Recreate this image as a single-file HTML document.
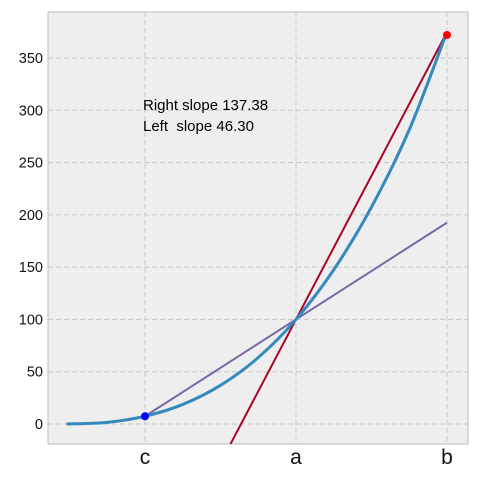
<!DOCTYPE html>
<html><head><meta charset="utf-8"><style>
html,body{margin:0;padding:0;background:#fff;width:480px;height:480px;overflow:hidden}
svg{display:block;font-family:"Liberation Sans","DejaVu Sans",sans-serif}
</style></head><body>
<svg width="480" height="480" viewBox="0 0 480 480">
<rect x="48" y="12" width="420" height="432" fill="#eeeeee" stroke="#bcbcbc"/>
<g id="grid"></g><g id="marks"></g><g id="ticks"></g>
<text x="143" y="110" font-size="15" fill="#000">Right slope 137.38</text>
<text x="143" y="131" font-size="15" fill="#000" xml:space="preserve">Left  slope 46.30</text>
</svg>
<script>
const curveX=[-1,-0.5,0,0.5,1,1.5,2,2.5,3,3.5,4];
const curveY=[0,1.6,7.4,18.7,37.0,63.6,100,147.5,207.5,281.4,375];
const xTickVals=[0,2,4];
const xTickLabels=["c","a","b"];
const yTicks=[0,50,100,150,200,250,300,350];
const pointA=[2,100];
const pointC=[0,7.4];
const pointB=[4,372];
const leftSlope=46.30;
const rightSlope=137.38;

const X=v=>145+v*75.5, Y=v=>424-v*1.0457;
const ns="http://www.w3.org/2000/svg";
function mk(tag,attrs,parent){const e=document.createElementNS(ns,tag);for(const k in attrs)e.setAttribute(k,attrs[k]);document.getElementById(parent).appendChild(e);return e;}
yTicks.forEach(v=>{
  const l=mk('line',{x1:48,x2:468,y1:Y(v),y2:Y(v),stroke:'#c8c8c8','stroke-dasharray':'5,3'},'grid');
  
  
  const t=mk('text',{x:43,y:Y(v)+5,'text-anchor':'end','font-size':'14.5',fill:'#111'},'ticks');
  t.textContent=v;
  
  
});
xTickVals.forEach((v,i)=>{
  const l=mk('line',{x1:X(v),x2:X(v),y1:12,y2:444,stroke:'#c8c8c8','stroke-dasharray':'5,3'},'grid');
  
  
  const t=mk('text',{x:X(v),y:464,'text-anchor':'middle','font-size':'21',fill:'#111'},'ticks');
  t.textContent=xTickLabels[i];
  
  
});
const cp=mk('clipPath',{id:'clip'},'marks');
const r=document.createElementNS(ns,'rect');r.setAttribute('x',48);r.setAttribute('y',12);r.setAttribute('width',420);r.setAttribute('height',432);cp.appendChild(r);
const ls=mk('line',{x1:X(pointC[0]),y1:Y(pointA[1]-leftSlope*(pointA[0]-pointC[0])),x2:X(4),y2:Y(pointA[1]+leftSlope*(4-pointA[0])),stroke:'#7a68a6','stroke-width':2,'clip-path':'url(#clip)'},'marks');


const rs=mk('line',{x1:X(pointC[0]),y1:Y(pointA[1]-rightSlope*(pointA[0]-pointC[0])),x2:X(pointB[0]),y2:Y(pointA[1]+rightSlope*(pointB[0]-pointA[0])),stroke:'#a60628','stroke-width':2,'clip-path':'url(#clip)'},'marks');


const P=curveX.map((x,i)=>[X(x),Y(curveY[i])]);
P[0][0]-=3;
let d=`M${P[0][0]},${P[0][1]}`;
for(let i=0;i<P.length-1;i++){const p0=P[Math.max(i-1,0)],p1=P[i],p2=P[i+1],p3=P[Math.min(i+2,P.length-1)];
d+=` C${p1[0]+(p2[0]-p0[0])/6},${p1[1]+(p2[1]-p0[1])/6} ${p2[0]-(p3[0]-p1[0])/6},${p2[1]-(p3[1]-p1[1])/6} ${p2[0]},${p2[1]}`;}
const cv=mk('path',{d:d,fill:'none',stroke:'#348abd','stroke-width':3},'marks');


const dc=mk('circle',{cx:X(pointC[0]),cy:Y(pointC[1]),r:4,fill:'#0000ff'},'marks');


const db=mk('circle',{cx:X(pointB[0]),cy:Y(pointB[1]),r:4,fill:'#ff0000'},'marks');


</script>
</body></html>
